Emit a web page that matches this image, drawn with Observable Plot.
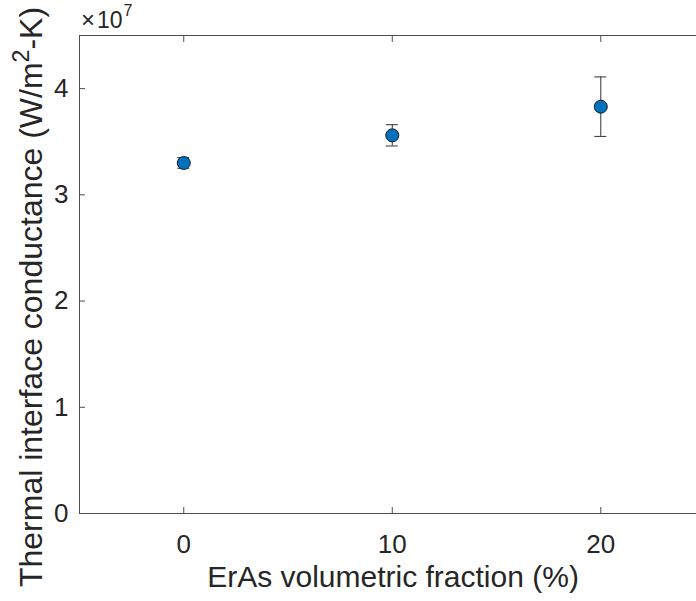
<!DOCTYPE html>
<html><head><meta charset="utf-8">
<script src="https://cdn.jsdelivr.net/npm/d3@7"></script>
<script src="https://cdn.jsdelivr.net/npm/@observablehq/plot@0.6"></script>
<style>
body{margin:0;background:#fff;overflow:hidden}
#chart svg{display:block}
</style>
</head><body><div id="chart"></div>
<script>
const fractions = [0, 10, 20];
const conductance = [3.30e7, 3.56e7, 3.83e7];
const errors = [0.05e7, 0.10e7, 0.28e7];
const xTicks = [0, 10, 20];
const yTicks = [0, 1e7, 2e7, 3e7, 4e7];
const xLabel = "ErAs volumetric fraction (%)";
const yLabelMain = "Thermal interface conductance (W/m";
const yLabelSup = "2";
const yLabelEnd = "-K)";
const exponent = 7;

const data = fractions.map((f, i) => ({x: f, y: conductance[i], lo: conductance[i] - errors[i], hi: conductance[i] + errors[i]}));

const font = "'Liberation Sans', Arial, Helvetica, sans-serif";
const ink = "#262626";
const axisColor = "#4d4d4d";

const plot = Plot.plot({
  width: 696,
  height: 601,
  marginLeft: 79,
  marginTop: 35,
  marginBottom: 88,
  marginRight: 0,
  style: {fontFamily: font, color: ink, background: "#fff", overflow: "hidden"},
  x: {domain: [-5, 24.59], label: null},
  y: {domain: [0, 4.5e7], label: null},
  marks: [
    Plot.ruleY([0], {stroke: axisColor}),
    Plot.ruleY([4.5e7], {stroke: axisColor}),
    Plot.ruleX([-5], {stroke: axisColor}),
    Plot.axisX({anchor: "bottom", ticks: xTicks, tickSize: -6, tickFormat: () => "", label: null, stroke: axisColor}),
    Plot.axisX({anchor: "top", ticks: xTicks, tickSize: -6, tickFormat: () => "", label: null, stroke: axisColor}),
    Plot.axisY({anchor: "left", ticks: yTicks, tickSize: -6, tickFormat: () => "", label: null, stroke: axisColor}),
    Plot.axisX({anchor: "bottom", ticks: xTicks, tickSize: 0, tickPadding: 21, tickFormat: d => String(d), label: null, fontSize: 26, fill: ink}),
    Plot.axisY({anchor: "left", ticks: yTicks, tickSize: 0, tickPadding: 11, tickFormat: d => String(d / 1e7), label: null, fontSize: 26, fill: ink}),
    Plot.ruleX(data, {x: "x", y1: "lo", y2: "hi", stroke: "#333", strokeWidth: 1}),
    Plot.ruleY(data, {y: "lo", x1: "x", x2: "x", insetLeft: -6, insetRight: -6, stroke: "#333", strokeWidth: 1}),
    Plot.ruleY(data, {y: "hi", x1: "x", x2: "x", insetLeft: -6, insetRight: -6, stroke: "#333", strokeWidth: 1}),
    Plot.dot(data, {x: "x", y: "y", r: 6.5, fill: "#0072BD", stroke: "#1a1a1a", strokeWidth: 1})
  ]
});
document.getElementById("chart").appendChild(plot);

const svg = d3.select(plot);
// x label
svg.append("text")
  .attr("x", 393).attr("y", 587)
  .attr("text-anchor", "middle")
  .attr("font-family", font).attr("font-size", 30).attr("fill", ink)
  .text(xLabel);
// y label
const yl = svg.append("text")
  .attr("transform", "translate(42,297) rotate(-90)")
  .attr("text-anchor", "middle")
  .attr("font-family", font).attr("font-size", 32).attr("fill", ink);
yl.append("tspan").text(yLabelMain);
yl.append("tspan").attr("dy", -13).attr("font-size", 23).text(yLabelSup);
yl.append("tspan").attr("dy", 13).text(yLabelEnd);
// exponent
const ex = svg.append("text")
  .attr("x", 81).attr("y", 28)
  .attr("text-anchor", "start")
  .attr("font-family", font).attr("font-size", 23).attr("fill", ink);
ex.append("tspan").attr("font-weight", 300).attr("font-size", 24).text("\u00d7");
ex.append("tspan").attr("dx", 2).text("10");
ex.append("tspan").attr("dy", -12).attr("dx", 1).attr("font-size", 16).text(String(exponent));
</script>
</body></html>
